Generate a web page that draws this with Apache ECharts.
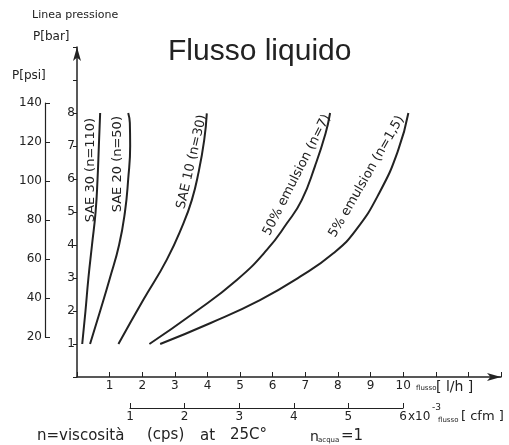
<!DOCTYPE html>
<html>
<head>
<meta charset="utf-8">
<title>Flusso liquido</title>
<script src="https://cdn.jsdelivr.net/npm/echarts@6/dist/echarts.min.js"></script>
<style>
    html, body { margin: 0; padding: 0; background: #fff; }
    #chart { width: 509px; height: 445px; }
</style>
</head>
<body>
<div id="chart"></div>
<script>
// curve points: [flusso l/h, pressione bar]
var sae30 = [[0.16, 1.0], [0.26, 2.0], [0.35, 3.0], [0.46, 4.0], [0.57, 5.0], [0.63, 6.0], [0.67, 7.0], [0.71, 8.0]];
var sae20 = [[0.40, 1.0], [0.71, 2.0], [1.01, 3.0], [1.29, 4.0], [1.47, 5.0], [1.57, 6.0], [1.63, 7.0], [1.62, 7.7], [1.57, 8.0]];
var sae10 = [[1.27, 1.0], [2.03, 2.33], [2.75, 3.55], [3.26, 4.65], [3.52, 5.36], [3.72, 6.17], [3.90, 7.18], [3.98, 7.99]];
var emul50 = [[2.22, 1.0], [3.57, 1.93], [4.90, 2.94], [5.82, 3.85], [6.43, 4.65], [6.89, 5.36], [7.30, 6.4], [7.62, 7.38], [7.76, 8.0]];
var emul5 = [[2.55, 1.0], [4.08, 1.63], [5.61, 2.33], [6.84, 3.04], [7.86, 3.75], [8.55, 4.45], [9.28, 5.6], [9.85, 6.88], [10.16, 8.0]];

var curveNames = ['SAE 30 (n=110)', 'SAE 20 (n=50)', 'SAE 10 (n=30)', '50% emulsion (n=7)', '5% emulsion (n=1,5)'];
var labelAt = [[0.43, 6.27], [1.26, 6.45], [3.52, 6.52], [6.74, 6.12], [8.88, 6.07]];
var labelRotate = [90, 90, 77, 63, 60];

var barTicks = [1, 2, 3, 4, 5, 6, 7, 8];
var psiTicks = [20, 40, 60, 80, 100, 120, 140];
var lhTicks = [1, 2, 3, 4, 5, 6, 7, 8, 9, 10];
var cfmTicks = [1, 2, 3, 4, 5, 6];

var titleFont = 'Liberation Sans, Arial, sans-serif';
var font = 'DejaVu Sans, sans-serif';
var ink = '#222';

var myChart = echarts.init(document.getElementById('chart'));

var series = [sae30, sae20, sae10, emul50, emul5].map(function (d, i) {
    return {
        name: curveNames[i],
        type: 'line',
        xAxisIndex: 0,
        yAxisIndex: 0,
        data: d,
        smooth: 0.5,
        symbol: 'none',
        lineStyle: { color: ink, width: 2 },
        markPoint: {
            symbol: 'circle',
            symbolSize: 0,
            data: [{ coord: labelAt[i] }],
            label: {
                show: true,
                position: 'inside',
                formatter: curveNames[i],
                rotate: labelRotate[i],
                color: ink,
                fontFamily: font,
                fontSize: 13
            }
        }
    };
});

function showOnly(list) {
    return function (v) { return list.indexOf(v) >= 0 ? String(v) : ''; };
}

function txt(x, y, s, size, family) {
    return { type: 'text', left: x, top: y, style: { text: s, font: size + 'px ' + (family || font), fill: ink } };
}

var option = {
    animation: false,
    backgroundColor: '#fff',
    grid: [
        { left: 77, top: 47, width: 424, height: 330 },   // main
        { left: 130, top: 400, width: 273, height: 8 },   // cfm scale
        { left: 45, top: 103, width: 1, height: 234 }     // psi scale
    ],
    xAxis: [
        {
            type: 'value', gridIndex: 0, min: 0, max: 13, interval: 1,
            splitLine: { show: false },
            axisLine: { lineStyle: { color: ink, width: 1.5 }, symbol: ['none', 'arrow'], symbolSize: [6, 14] },
            axisTick: { inside: true, length: 5, lineStyle: { color: ink } },
            axisLabel: { formatter: showOnly(lhTicks), color: ink, fontFamily: font, fontSize: 12, margin: 3 }
        },
        {
            type: 'value', gridIndex: 1, min: 1, max: 6, interval: 1,
            splitLine: { show: false },
            axisLine: { lineStyle: { color: ink, width: 1.2 } },
            axisTick: { inside: true, length: 5, lineStyle: { color: ink } },
            axisLabel: { formatter: showOnly(cfmTicks), color: ink, fontFamily: font, fontSize: 12, margin: 3 }
        },
        { type: 'value', gridIndex: 2, show: false }
    ],
    yAxis: [
        {
            type: 'value', gridIndex: 0, min: 0, max: 10, interval: 1,
            splitLine: { show: false },
            axisLine: { lineStyle: { color: ink, width: 1.5 }, symbol: ['none', 'arrow'], symbolSize: [6, 14] },
            axisTick: { length: 4, lineStyle: { color: ink } },
            axisLabel: { formatter: showOnly(barTicks), color: ink, fontFamily: font, fontSize: 12, margin: 2 }
        },
        { type: 'value', gridIndex: 1, show: false },
        {
            type: 'value', gridIndex: 2, min: 20, max: 140, interval: 20,
            splitLine: { show: false },
            axisLine: { lineStyle: { color: ink, width: 1.2 } },
            axisTick: { inside: true, length: 5, lineStyle: { color: ink } },
            axisLabel: { formatter: showOnly(psiTicks), color: ink, fontFamily: font, fontSize: 12, margin: 3 }
        }
    ],
    graphic: [
        txt(168, 37, 'Flusso liquido', 30, titleFont),
        txt(32, 10, 'Linea pressione', 11),
        txt(33, 31, 'P[bar]', 12),
        txt(12, 70, 'P[psi]', 12),
        txt(416, 385, 'flusso', 7),
        txt(436, 380, '[ l/h ]', 14),
        txt(408, 411, 'x10', 12),
        txt(432, 403, '-3', 9),
        txt(438, 417, 'flusso', 7),
        txt(461, 410, '[ cfm ]', 13),
        txt(37, 429, 'n=viscosità', 15),
        txt(147, 428, '(cps)', 15),
        txt(200, 429, 'at', 15),
        txt(230, 428, '25C°', 15),
        txt(310, 430, 'n', 14),
        txt(318, 437, 'acqua', 7),
        txt(341, 429, '=1', 15)
    ],
    series: series
};

myChart.setOption(option);
window.onresize = myChart.resize;
</script>
</body>
</html>
